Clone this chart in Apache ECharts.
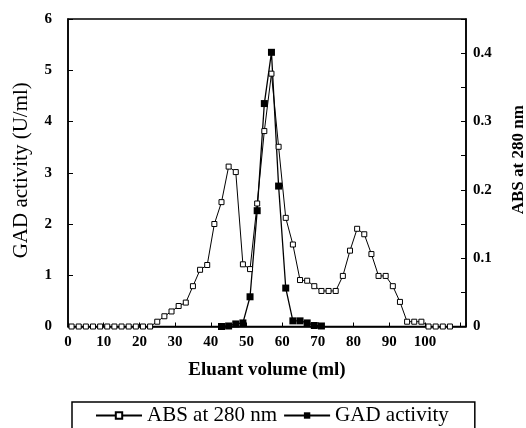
<!DOCTYPE html>
<html>
<head>
<meta charset="utf-8">
<script src="https://cdn.jsdelivr.net/npm/echarts@6/dist/echarts.min.js"></script>
<style>
html,body{margin:0;padding:0;background:#fff;}
#chart{width:526px;height:428px;}
</style>
</head>
<body>
<div id="chart"></div>
<script>
// ABS at 280 nm (right axis), fractions of 2 ml
var absVolume = [1,3,5,7,9,11,13,15,17,19,21,23,25,27,29,31,33,35,37,39,41,43,45,47,49,51,53,55,57,59,61,63,65,67,69,71,73,75,77,79,81,83,85,87,89,91,93,95,97,99,101,103,105,107];
var absValues = [0,0,0,0,0,0,0,0,0,0,0,0,0.007,0.015,0.022,0.030,0.035,0.059,0.083,0.090,0.150,0.182,0.234,0.226,0.091,0.084,0.180,0.286,0.370,0.263,0.159,0.120,0.068,0.067,0.059,0.052,0.052,0.052,0.074,0.111,0.143,0.135,0.106,0.074,0.074,0.059,0.036,0.007,0.007,0.007,0,0,0,0];
// GAD activity (U/ml), left axis
var gadVolume = [43,45,47,49,51,53,55,57,59,61,63,65,67,69,71];
var gadValues = [0,0.01,0.05,0.07,0.58,2.26,4.35,5.35,2.74,0.75,0.11,0.11,0.07,0.02,0.01];
// tick labels
var xTickLabels = [0,10,20,30,40,50,60,70,80,90,100];
var leftTickLabels = [0,1,2,3,4,5,6];
var rightTickLabels = [0,0.1,0.2,0.3,0.4];

function pairs(xs, ys){ var out=[]; for(var i=0;i<xs.length;i++){ out.push([xs[i], ys[i]]); } return out; }
function inList(list, v){ for(var i=0;i<list.length;i++){ if(Math.abs(list[i]-v)<1e-6) return true; } return false; }

var FONT = 'Liberation Serif';
var chart = echarts.init(document.getElementById('chart'), null, {renderer:'canvas'});
chart.setOption({
  animation:false,
  backgroundColor:'#fff',
  grid:{left:68, right:60, top:19, bottom:101.5, show:true, borderColor:'#000', borderWidth:1.5, containLabel:false, outerBoundsMode:'none'},
  legend:{
    left:72, top:402,
    padding:[3,26,8,23],
    borderColor:'#000', borderWidth:1.5,
    itemWidth:46, itemHeight:8, itemGap:6,
    textStyle:{fontFamily:FONT, fontSize:21, color:'#000'},
    data:['ABS at 280 nm','GAD activity']
  },
  xAxis:{
    type:'value', min:0, max:111.5, interval:10,
    name:'Eluant volume (ml)', nameLocation:'middle', nameGap:34,
    nameTextStyle:{fontFamily:FONT, fontSize:19, fontWeight:'bold', color:'#000'},
    axisLine:{show:true, onZero:false, lineStyle:{color:'#000', width:1.5}},
    axisTick:{show:true, inside:true, length:4, lineStyle:{color:'#000', width:1}},
    axisLabel:{fontFamily:FONT, fontSize:15, fontWeight:'bold', color:'#000', margin:8,
      formatter:function(v){ return inList(xTickLabels, v) ? String(v) : ''; }},
    splitLine:{show:false}
  },
  yAxis:[{
    type:'value', min:0, max:6, interval:1, position:'left',
    name:'GAD activity (U/ml)', nameLocation:'middle', nameGap:36, nameRotate:90,
    nameTextStyle:{fontFamily:FONT, fontSize:21, color:'#000', padding:[0,0,0,5]},
    axisLine:{show:true, onZero:false, lineStyle:{color:'#000', width:1.5}},
    axisTick:{show:true, inside:true, length:5, lineStyle:{color:'#000', width:1}},
    axisLabel:{fontFamily:FONT, fontSize:15, fontWeight:'bold', color:'#000', margin:16,
      formatter:function(v){ return inList(leftTickLabels, v) ? String(v) : ''; }},
    splitLine:{show:false}
  },{
    type:'value', min:0, max:0.45, interval:0.05, position:'right',
    name:'ABS at 280 nm', nameLocation:'middle', nameGap:44, nameRotate:90,
    nameTextStyle:{fontFamily:FONT, fontSize:17, fontWeight:'bold', color:'#000', padding:[0,0,0,26]},
    axisLine:{show:true, onZero:false, lineStyle:{color:'#000', width:1.5}},
    axisTick:{show:true, inside:true, length:5, lineStyle:{color:'#000', width:1}},
    axisLabel:{fontFamily:FONT, fontSize:15, fontWeight:'bold', color:'#000', margin:7,
      formatter:function(v){ return inList(rightTickLabels, v) ? (v===0 ? '0' : v.toFixed(1)) : ''; }},
    splitLine:{show:false}
  }],
  series:[{
    name:'ABS at 280 nm', type:'line', yAxisIndex:1,
    data:pairs(absVolume, absValues),
    symbol:'rect', symbolSize:5,
    itemStyle:{color:'#fff', borderColor:'#000', borderWidth:1},
    lineStyle:{color:'#000', width:1},
    emphasis:{disabled:true}
  },{
    name:'GAD activity', type:'line', yAxisIndex:0,
    data:pairs(gadVolume, gadValues),
    symbol:'rect', symbolSize:7,
    itemStyle:{color:'#000', borderColor:'#000', borderWidth:0},
    lineStyle:{color:'#000', width:1.3},
    emphasis:{disabled:true}
  }]
});
</script>
</body>
</html>
